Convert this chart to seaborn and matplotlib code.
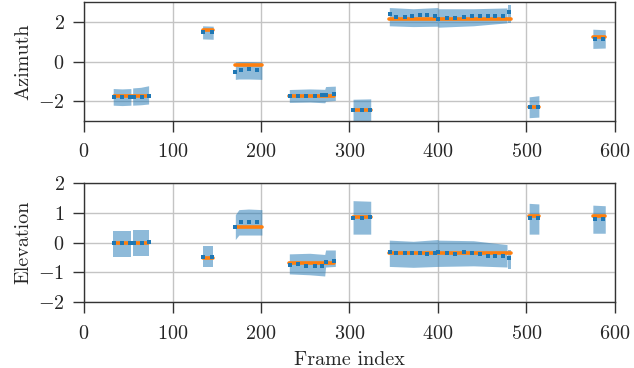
import numpy as np
import pandas as pd
import seaborn as sns
import matplotlib.pyplot as plt

# frame ranges of the predicted-uncertainty bands (one list per band)
band_frames = [[33, 43, 53], [55, 64, 73], [134, 146], [171, 175, 186, 201],
               [232, 255, 272, 273, 284], [304, 324], [345, 372, 400],
               [400, 440, 478], [479, 482], [503, 514], [575, 589]]

az_band_hi = [[-1.36, -1.38, -1.36], [-1.33, -1.30, -1.22], [1.80, 1.78],
              [-0.02, 0.0, 0.0, -0.02], [-1.41, -1.38, -1.40, -1.26, -1.24],
              [-1.90, -1.88], [2.72, 2.66, 2.72], [2.66, 2.66, 2.70],
              [2.86, 2.86], [-1.78, -1.72], [1.63, 1.60]]
az_band_lo = [[-2.20, -2.22, -2.20], [-2.20, -2.18, -2.14], [1.14, 1.12],
              [-0.90, -0.88, -0.88, -0.90], [-2.06, -2.04, -2.08, -2.00, -1.96],
              [-3.2, -3.2], [1.80, 1.76, 1.78], [1.73, 1.80, 1.95],
              [1.95, 1.95], [-2.83, -2.80], [0.66, 0.68]]

el_band_hi = [[0.38, 0.38, 0.38], [0.42, 0.42, 0.42], [-0.12, -0.12],
              [0.93, 1.10, 1.12, 1.10], [-0.38, -0.36, -0.40, -0.25, -0.25],
              [1.40, 1.38], [0.08, 0.04, 0.10], [0.08, 0.06, -0.07],
              [-0.25, -0.25], [1.31, 1.29], [1.25, 1.23]]
el_band_lo = [[-0.47, -0.47, -0.47], [-0.44, -0.44, -0.44], [-0.81, -0.81],
              [0.10, 0.25, 0.25, 0.25], [-1.05, -1.08, -1.12, -0.82, -0.80],
              [0.28, 0.28], [-0.80, -0.83, -0.80], [-0.80, -0.78, -0.82],
              [-0.90, -0.90], [0.28, 0.28], [0.31, 0.31]]

# ground-truth segments
gt_start = [34, 134, 171, 232, 304, 345, 503, 575]
gt_end = [72, 146, 201, 283, 324, 482, 514, 589]
az_gt = [-1.76, 1.58, -0.18, -1.76, -2.46, 2.14, -2.29, 1.26]
el_gt = [0.0, -0.53, 0.53, -0.70, 0.86, -0.34, 0.89, 0.89]

# predicted values (dots)
dot_frames = [34, 43, 52, 56, 66, 73,
              135, 145,
              171, 177, 187, 196,
              233, 242, 251, 261, 269, 274, 282,
              304, 314, 323,
              346, 353, 363, 371, 380, 388, 397, 400, 410, 419, 429, 438,
              447, 456, 464, 473, 480,
              504, 513,
              577, 587]
az_pred = [-1.78, -1.78, -1.78, -1.78, -1.78, -1.72,
           1.48, 1.48,
           -0.52, -0.41, -0.38, -0.44,
           -1.76, -1.76, -1.75, -1.76, -1.71, -1.68, -1.62,
           -2.46, -2.46, -2.46,
           2.37, 2.24, 2.25, 2.27, 2.32, 2.35, 2.30, 2.15, 2.19, 2.19, 2.24,
           2.29, 2.27, 2.30, 2.30, 2.27, 2.49,
           -2.29, -2.29,
           1.14, 1.14]
el_pred = [-0.03, -0.03, -0.01, -0.01, -0.01, 0.02,
           -0.47, -0.47,
           0.51, 0.68, 0.68, 0.68,
           -0.75, -0.72, -0.78, -0.80, -0.80, -0.64, -0.61,
           0.83, 0.83, 0.85,
           -0.33, -0.34, -0.34, -0.36, -0.36, -0.38, -0.35, -0.33, -0.34,
           -0.38, -0.33, -0.34, -0.38, -0.44, -0.44, -0.44, -0.53,
           0.81, 0.81,
           0.79, 0.79]

sns.set_style("whitegrid")
plt.rcParams['font.family'] = ['cmr10', 'DejaVu Serif']
plt.rcParams['mathtext.fontset'] = 'cm'
plt.rcParams['axes.formatter.use_mathtext'] = True

fig = plt.figure(figsize=(6.34, 3.68), dpi=100)
ax_az = fig.add_axes([0.1325, 0.671, 0.8375, 0.3236])
ax_el = fig.add_axes([0.1325, 0.1785, 0.8375, 0.325])

blue = '#1f77b4'
orange = '#ff7f0e'


def draw_panel(ax, band_hi, band_lo, gt_vals, pred, ylabel, ylim, yticks):
    for fr, hi, lo in zip(band_frames, band_hi, band_lo):
        ax.fill_between(fr, lo, hi, color=blue, alpha=0.5, linewidth=0)

    rows = []
    for i, (s, e, v) in enumerate(zip(gt_start, gt_end, gt_vals)):
        rows.append({'seg': i, 'frame': s, 'val': v})
        rows.append({'seg': i, 'frame': e, 'val': v})
    gt_df = pd.DataFrame(rows)
    sns.lineplot(data=gt_df, x='frame', y='val', units='seg', estimator=None,
                 color=orange, linewidth=2.6, ax=ax)

    sns.scatterplot(x=dot_frames, y=pred, marker='s', s=5.5, color=blue,
                    linewidth=0, ax=ax, zorder=5)

    ax.set_xlim(0, 600)
    ax.set_ylim(*ylim)
    ax.set_xticks(np.arange(0, 601, 100))
    ax.set_yticks(yticks)
    ax.set_ylabel(ylabel, fontsize=14.5, labelpad=4)
    ax.set_xlabel('')
    ax.grid(True, color='#c4c4c4', linewidth=1.0)
    ax.tick_params(labelsize=14.5, direction='out', length=8, width=1,
                   color='#333333', bottom=True, left=True)
    ax.tick_params(axis='x', pad=8)
    ax.tick_params(axis='y', pad=6)
    for sp in ax.spines.values():
        sp.set_color('#333333')
        sp.set_linewidth(1.0)


draw_panel(ax_az, az_band_hi, az_band_lo, az_gt, az_pred, 'Azimuth',
           (-3, 3), [-2, 0, 2])
draw_panel(ax_el, el_band_hi, el_band_lo, el_gt, el_pred, 'Elevation',
           (-2, 2), [-2, -1, 0, 1, 2])
ax_el.set_xlabel('Frame index', fontsize=14.5, labelpad=6)

fig.savefig('out.png', dpi=100)
